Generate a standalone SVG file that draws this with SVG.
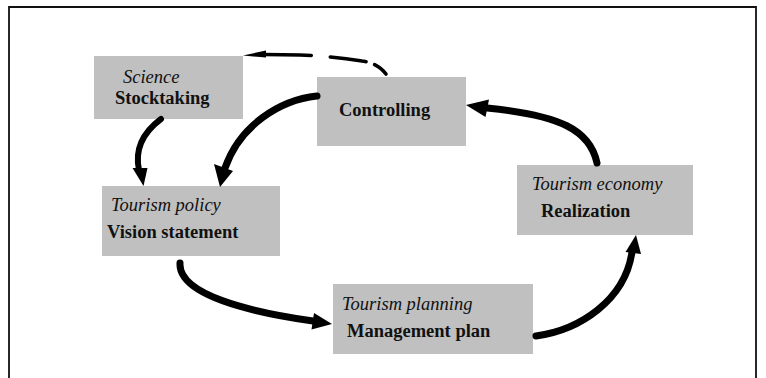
<svg xmlns="http://www.w3.org/2000/svg" width="766" height="378" viewBox="0 0 766 378">
<style>
.box{fill:#c0c0c0}
text{font-family:'Liberation Serif','Times New Roman',Times,serif;font-size:18.5px;fill:#111}
.it{font-style:italic}
.bd{font-weight:bold}
.con{fill:none;stroke:#000;stroke-linecap:round}
.head{fill:#000}
</style>
<rect width="766" height="378" fill="#fff"/>
<path d="M9,378 V7 H756 V378" fill="none" stroke="#111" stroke-width="1.8"/>
<g id="node-science">
<rect class="box" x="94" y="56" width="149" height="63"/>
<text class="it" x="123" y="83">Science</text>
<text class="bd" x="115" y="104">Stocktaking</text>
</g>
<g id="node-controlling">
<rect class="box" x="317" y="77" width="149" height="69"/>
<text class="bd" x="339" y="116">Controlling</text>
</g>
<g id="node-policy">
<rect class="box" x="102" y="186" width="178" height="70"/>
<text class="it" x="111" y="211">Tourism policy</text>
<text class="bd" x="107" y="238">Vision statement</text>
</g>
<g id="node-planning">
<rect class="box" x="333" y="284" width="200" height="70"/>
<text class="it" x="342" y="310">Tourism planning</text>
<text class="bd" x="347" y="337">Management plan</text>
</g>
<g id="node-economy">
<rect class="box" x="517" y="165" width="176" height="70"/>
<text class="it" x="532" y="190">Tourism economy</text>
<text class="bd" x="541" y="217">Realization</text>
</g>
<g id="connectors">
<path class="con" d="M161,119 C145,131 134,147 139,170" stroke-width="6"/>
<polygon class="head" points="132.5,168 147.5,168 143.5,186"/>
<path class="con" d="M317,96 C280,100 240,125 225,168" stroke-width="7"/>
<polygon class="head" points="214,164 233,171 220,187"/>
<path class="con" d="M180,263 C178,295 250,312 313,321" stroke-width="7"/>
<polygon class="head" points="314,313 311.5,329.5 332,324"/>
<path class="con" d="M536,336 C580,330 625,300 632,252" stroke-width="7"/>
<polygon class="head" points="625.5,252 641,254 636,235"/>
<path class="con" d="M597,163 C590,130 560,115 487,108" stroke-width="7"/>
<polygon class="head" points="489,99.5 485.5,117 466,105"/>
<path class="con" d="M386,74 Q378,63 362,61 Q330,56 300,55 L264,54.5" stroke-width="3.6" stroke-linecap="butt" stroke-dasharray="15 9 36 19 80"/>
<polygon class="head" points="243,55.5 266,50.5 266,57.5"/>
</g>
</svg>
